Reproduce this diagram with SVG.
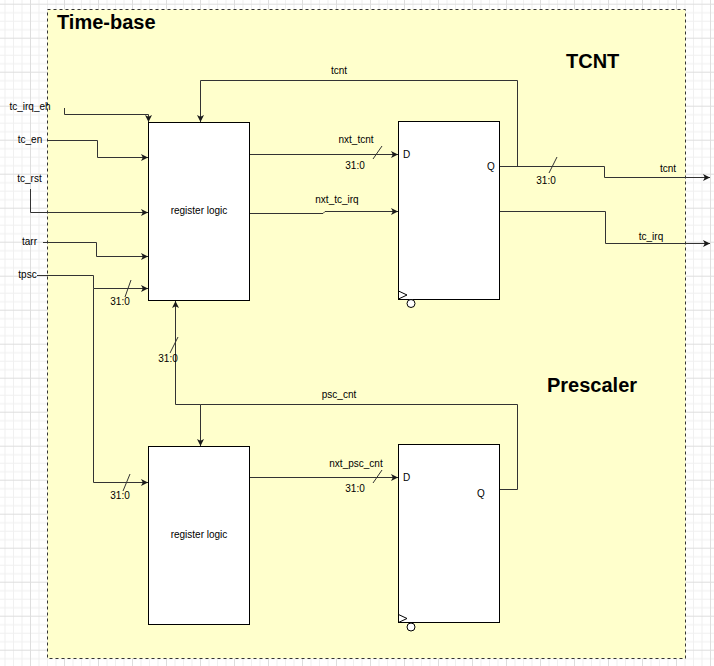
<svg xmlns="http://www.w3.org/2000/svg" width="714" height="666" viewBox="0 0 714 666">
<defs>
<pattern id="grid" patternUnits="userSpaceOnUse" x="30" y="37.7" width="34" height="34">
<rect x="0" y="0" width="34" height="34" fill="#ffffff"/>
<rect x="8.5" y="0" width="1" height="34" fill="#f0f0f0"/>
<rect x="17" y="0" width="1" height="34" fill="#f0f0f0"/>
<rect x="25.5" y="0" width="1" height="34" fill="#f0f0f0"/>
<rect x="0" y="8.5" width="34" height="1" fill="#f0f0f0"/>
<rect x="0" y="17" width="34" height="1" fill="#f0f0f0"/>
<rect x="0" y="25.5" width="34" height="1" fill="#f0f0f0"/>
<rect x="0" y="0" width="1" height="34" fill="#dedede"/>
<rect x="0" y="0" width="34" height="1" fill="#dedede"/>
</pattern>
<marker id="arr" markerUnits="userSpaceOnUse" markerWidth="8" markerHeight="8" refX="7" refY="3.5" orient="auto">
<path d="M0,0 L7,3.5 L0,7 L1.8,3.5 z" fill="#1a1a1a"/>
</marker>
</defs>
<style>
.t{font-family:"Liberation Sans",Arial,sans-serif;font-size:10px;fill:#000}
.ti{font-family:"Liberation Sans",Arial,sans-serif;font-size:20px;font-weight:bold;fill:#000}
.w{fill:none;stroke:#333;stroke-width:1}
.box{fill:#fff;stroke:#000;stroke-width:1}
</style>
<rect x="0" y="0" width="714" height="666" fill="url(#grid)"/>
<g id="timebase">
<rect x="47.5" y="9.5" width="638" height="649" fill="#ffffcc" stroke="#333" stroke-dasharray="3,3"/>
<text class="ti" x="57" y="29">Time-base</text>
<text class="ti" x="566" y="68">TCNT</text>
<text class="ti" x="547" y="392">Prescaler</text>
</g>
<g id="connectors">
<path class="w" d="M64.5,108 V114.5 H148.5 V122" marker-end="url(#arr)"/>
<path class="w" d="M47,140.5 H97.5 V157.5 H148" marker-end="url(#arr)"/>
<path class="w" d="M30.5,189 V212.5 H148" marker-end="url(#arr)"/>
<path class="w" d="M43,242.5 H96.5 V256.5 H148" marker-end="url(#arr)"/>
<path class="w" d="M37,275.5 H93.5 V288.5 H148" marker-end="url(#arr)"/>
<path class="w" d="M93.5,288.5 V482.5 H148" marker-end="url(#arr)"/>
<path class="w" d="M249,154.5 H398" marker-end="url(#arr)"/>
<path class="w" d="M249,213.5 H323 L325,211.5 H398" marker-end="url(#arr)"/>
<path class="w" d="M499,166.5 H604.5 V177.5 H710" marker-end="url(#arr)"/>
<path class="w" d="M517.5,166.5 V80.5 H200.5 V122" marker-end="url(#arr)"/>
<path class="w" d="M499,211.5 H605.5 V243.5 H710" marker-end="url(#arr)"/>
<path class="w" d="M499,489.5 H517.5 V404.5 H200.5 V446" marker-end="url(#arr)"/>
<path class="w" d="M200.5,404.5 H175.5 V301" marker-end="url(#arr)"/>
<path class="w" d="M249,477.5 H398" marker-end="url(#arr)"/>
<path class="w" d="M373,159 L382,146"/>
<path class="w" d="M549,173 L557,157"/>
<path class="w" d="M170,353 L178,337"/>
<path class="w" d="M125,297 L131,280"/>
<path class="w" d="M123,491 L130,474"/>
<path class="w" d="M373,483 L382,470"/>
<text class="t" x="30" y="110" text-anchor="middle">tc_irq_eh</text>
<text class="t" x="30" y="143" text-anchor="middle">tc_en</text>
<text class="t" x="29.5" y="182" text-anchor="middle">tc_rst</text>
<text class="t" x="29.5" y="245" text-anchor="middle">tarr</text>
<text class="t" x="27.5" y="278" text-anchor="middle">tpsc</text>
<text class="t" x="120" y="305" text-anchor="middle">31:0</text>
<text class="t" x="120" y="499" text-anchor="middle">31:0</text>
<text class="t" x="168" y="362" text-anchor="middle">31:0</text>
<text class="t" x="356" y="143" text-anchor="middle">nxt_tcnt</text>
<text class="t" x="355" y="169" text-anchor="middle">31:0</text>
<text class="t" x="337" y="203" text-anchor="middle">nxt_tc_irq</text>
<text class="t" x="339" y="74" text-anchor="middle">tcnt</text>
<text class="t" x="668" y="172" text-anchor="middle">tcnt</text>
<text class="t" x="546" y="184" text-anchor="middle">31:0</text>
<text class="t" x="651" y="240" text-anchor="middle">tc_irq</text>
<text class="t" x="339" y="398" text-anchor="middle">psc_cnt</text>
<text class="t" x="356" y="467" text-anchor="middle">nxt_psc_cnt</text>
<text class="t" x="355" y="492" text-anchor="middle">31:0</text>
</g>
<g id="reg_logic_tcnt">
<rect class="box" x="148.5" y="122.5" width="101" height="178"/>
<text class="t" x="199" y="214" text-anchor="middle">register logic</text>
</g>
<g id="ff_tcnt">
<rect class="box" x="398.5" y="121.5" width="101" height="178"/>
<text class="t" x="403" y="158">D</text>
<text class="t" x="487" y="170">Q</text>
<path d="M398.5,291 L407,295 L398.5,299" fill="none" stroke="#000"/>
<circle cx="411" cy="303.5" r="4" fill="#fff" stroke="#000"/>
</g>
<g id="reg_logic_psc">
<rect class="box" x="148.5" y="446.5" width="101" height="178"/>
<text class="t" x="199" y="538" text-anchor="middle">register logic</text>
</g>
<g id="ff_psc">
<rect class="box" x="398.5" y="444.5" width="101" height="178"/>
<text class="t" x="403" y="481">D</text>
<text class="t" x="477" y="497">Q</text>
<path d="M398.5,614.5 L407,618.5 L398.5,622.5" fill="none" stroke="#000"/>
<circle cx="411" cy="627" r="4" fill="#fff" stroke="#000"/>
</g>
</svg>
